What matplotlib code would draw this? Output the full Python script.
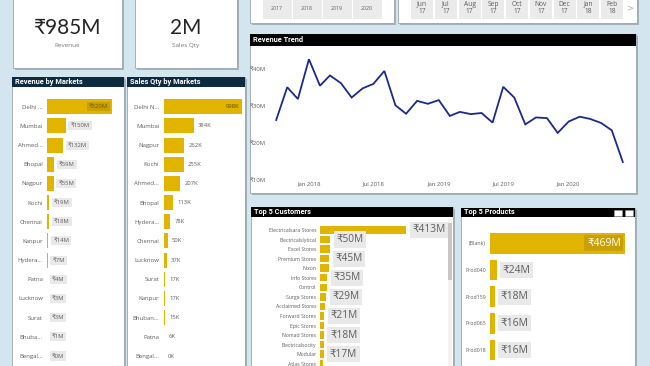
import numpy as np
import matplotlib
matplotlib.use("Agg")
from matplotlib import pyplot as plt
from matplotlib.patches import Rectangle

W, H = 650, 366
BG = "#D3E5EF"
GOLD = "#E1B400"
GOLD_DARK = "#C9A000"
TXT = "#605E5C"
BOX = "#E9E9E9"
BODY = ["Open Sans", "DejaVu Sans"]
HEAD = ["Roboto", "DejaVu Sans"]

# ---- data ----
card_values = ["₹985M", "2M"]
card_names = ["Revenue", "Sales Qty"]

years = ["2017", "2018", "2019", "2020"]
months = ["Jun\n17", "Jul\n17", "Aug\n17", "Sep\n17", "Oct\n17", "Nov\n17", "Dec\n17", "Jan\n18", "Feb\n18"]

rev_markets = ["Delhi ...", "Mumbai", "Ahmed...", "Bhopal", "Nagpur", "Kochi", "Chennai",
               "Kanpur", "Hydera...", "Patna", "Lucknow", "Surat", "Bhuba...", "Bengal..."]
rev_values = [520, 150, 132, 59, 55, 19, 18, 14, 7, 4, 3, 3, 1, 0]

qty_markets = ["Delhi N...", "Mumbai", "Nagpur", "Kochi", "Ahmed...", "Bhopal", "Hydera...",
               "Chennai", "Lucknow", "Surat", "Kanpur", "Bhuban...", "Patna", "Bengal..."]
qty_values = [998, 384, 262, 255, 207, 113, 78, 50, 37, 17, 17, 15, 6, 0]

trend_months = np.arange("2017-10", "2020-07", dtype="datetime64[M]").astype("datetime64[D]")
trend_rev = [26.2, 35.1, 31.9, 42.7, 35.5, 38.3, 36.2, 32.3, 34.8, 36.0, 39.5,
             30.2, 27.9, 31.4, 30.6, 31.6, 27.3, 28.4, 27.8, 28.1, 25.5, 35.2,
             32.3, 25.0, 26.9, 26.7, 22.7, 25.8, 27.1, 26.5, 25.4, 23.4, 14.8]
trend_ticks = np.array(["2018-01-01", "2018-07-01", "2019-01-01", "2019-07-01", "2020-01-01"], dtype="datetime64[D]")
trend_tick_labels = ["Jan 2018", "Jul 2018", "Jan 2019", "Jul 2019", "Jan 2020"]
trend_yticks = [10, 20, 30, 40]

customers = ["Electricalsara Stores", "Electricalslytical", "Excel Stores", "Premium Stores",
             "Nixon", "Info Stores", "Control", "Surge Stores", "Acclaimed Stores",
             "Forward Stores", "Epic Stores", "Nomad Stores", "Electricalsocity",
             "Modular", "Atlas Stores"]
customer_rev = [413, 50, 47, 45, 41, 35, 33, 29, 24, 21, 20, 18, 17, 17, 16]
customer_labels = ["₹413M", "₹50M", "", "₹45M", "", "₹35M", "", "₹29M", "", "₹21M", "",
                   "₹18M", "", "₹17M", ""]

products = ["(Blank)", "Prod040", "Prod159", "Prod065", "Prod018"]
product_rev = [469, 24, 18, 16, 16]


def rect_px(x0, y0, x1, y1):
    return [x0 / W, 1 - y1 / H, (x1 - x0) / W, (y1 - y0) / H]


fig = plt.figure(figsize=(6.5, 3.66), dpi=100, facecolor=BG)
bg = fig.add_axes([0, 0, 1, 1])
bg.set_xlim(0, W)
bg.set_ylim(H, 0)
bg.axis("off")


def panel(x0, y0, x1, y1, title=None, head=None, hh=10):
    bg.add_patch(Rectangle((x0 + 1.5, y0 + 1.5), x1 - x0, y1 - y0, fc="#8f9ba3", ec="none", alpha=0.7))
    bg.add_patch(Rectangle((x0, y0), x1 - x0, y1 - y0, fc="white", ec="#9aa5ac", lw=0.6))
    if title:
        bg.add_patch(Rectangle((x0, y0), x1 - x0, hh, fc=head, ec="none"))
        bg.text(x0 + 3, y0 + hh / 2, title, color="white", fontsize=5.3, fontweight="bold",
                family=HEAD, va="center", ha="left")


# cards
for (x0, x1), val, name in zip([(13, 122), (135, 237)], card_values, card_names):
    panel(x0, -5, x1, 68)
    bg.text((x0 + x1) / 2, 28, val, fontsize=15, family=["Lato", "DejaVu Sans"], color="#252423",
            ha="center", va="center")
    bg.text((x0 + x1) / 2, 45.5, name, fontsize=4.6, family=BODY, color="#777777",
            ha="center", va="center")

# slicers
panel(250, -5, 394, 23)
for i, y in enumerate(years):
    cx = 277 + 30 * i
    bg.add_patch(Rectangle((cx - 14.5, 0), 29, 19.3, fc="#EBEBEB", ec="none"))
    bg.text(cx, 8, y, fontsize=3.8, family=BODY, color=TXT, ha="center", va="center")

panel(398, -5, 637, 23)
for i, m in enumerate(months):
    cx = 422 + 23.75 * i
    bg.add_patch(Rectangle((cx - 11, 0), 22, 18.7, fc="#EBEBEB", ec="none"))
    bg.text(cx, 8, m, fontsize=4.8, family=BODY, color=TXT, ha="center", va="center", linespacing=1.15)
bg.text(630, 8, ">", fontsize=6, color="#b0b0b0", ha="center", va="center")

# big panels
panel(250, 34, 636, 193, "Revenue Trend", "black", hh=12)
panel(12, 77, 124, 372, "Revenue by Markets", "#0E2A40", hh=9.5)
panel(127, 77, 245, 372, "Sales Qty by Markets", "#0E2A40", hh=9.5)
panel(251, 207, 453, 372, "Top 5 Customers", "black", hh=10)
panel(461, 208, 635, 372, "Top 5 Products", "black", hh=9)

# scrollbar in customers
bg.add_patch(Rectangle((448, 219), 4, 150, fc="#F2F2F2", ec="none"))
bg.add_patch(Rectangle((448, 223), 4, 57, fc="#C6C6C6", ec="none"))
# header icons in products
for ix in (614, 625):
    bg.add_patch(Rectangle((ix, 209.5), 7.5, 6.5, fc="white", ec="#9a9a9a", lw=0.4))


def bar_axes(rect, names, vals, vmax, name_fs, pad):
    ax = fig.add_axes(rect)
    ax.set_facecolor("none")
    n = len(vals)
    ax.barh(range(n), vals, height=0.78, color=GOLD)
    ax.set_xlim(0, vmax)
    ax.set_ylim(n - 0.5, -0.5)
    ax.set_yticks(range(n))
    ax.set_yticklabels(names, fontsize=name_fs, color=TXT, family=BODY)
    ax.tick_params(axis="y", length=0, pad=pad)
    ax.set_xticks([])
    for s in ax.spines.values():
        s.set_visible(False)
    return ax


# revenue by markets
ax = bar_axes(rect_px(46.7, 97.1, 112, 365.6), rev_markets, rev_values, 520, 4.3, 2.8)
for i, v in enumerate(rev_values):
    lab = "₹%dM" % v
    if i == 0:
        ax.annotate(lab, (v, i), xytext=(-3, 0), textcoords="offset points", ha="right", va="center",
                    fontsize=4.2, family=BODY, color="#6b5a10",
                    bbox=dict(boxstyle="square,pad=0.3", fc=GOLD_DARK, ec="none"))
    else:
        ax.annotate(lab, (v, i), xytext=(3.5, 0), textcoords="offset points", ha="left", va="center",
                    fontsize=4.2, family=BODY, color=TXT,
                    bbox=dict(boxstyle="square,pad=0.35", fc=BOX, ec="none"))

# sales qty by markets
ax = bar_axes(rect_px(164, 97.1, 241.7, 365.6), qty_markets, qty_values, 998, 4.3, 3.4)
for i, v in enumerate(qty_values):
    lab = "%dK" % v
    if i == 0:
        ax.annotate(lab, (v, i), xytext=(-2, 0), textcoords="offset points", ha="right", va="center",
                    fontsize=4.2, family=BODY, color="#5a4a00")
    else:
        ax.annotate(lab, (v, i), xytext=(3, 0), textcoords="offset points", ha="left", va="center",
                    fontsize=4.2, family=BODY, color=TXT)

# revenue trend
ax = fig.add_axes(rect_px(268, 50, 631, 179.7))
ax.set_facecolor("none")
ax.plot(trend_months, trend_rev, color="#1B2A8C", lw=1.3, solid_joinstyle="miter")
ax.set_xlim(trend_months[0] - np.timedelta64(23, "D"), trend_months[-1] + np.timedelta64(23, "D"))
ax.set_ylim(10, 45.2)
ax.set_yticks(trend_yticks)
ax.set_yticklabels(["₹%dM" % t for t in trend_yticks], fontsize=4.3, color=TXT, family=BODY)
ax.set_xticks(trend_ticks)
ax.set_xticklabels(trend_tick_labels, fontsize=4.3, color=TXT, family=BODY)
ax.tick_params(length=0, pad=1.5)
for s in ax.spines.values():
    s.set_visible(False)

# top customers
ax = bar_axes(rect_px(320, 225.2, 406.3, 368.5), customers, customer_rev, 413, 3.7, 2.7)
for i, (v, lab) in enumerate(zip(customer_rev, customer_labels)):
    if lab:
        ax.annotate(lab, (v, i), xytext=(4.5, 0), textcoords="offset points", ha="left", va="center",
                    fontsize=7.3, family=BODY, color=TXT,
                    bbox=dict(boxstyle="square,pad=0.25", fc=BOX, ec="none"))

# top products
ax = bar_axes(rect_px(490, 230, 625, 363.4), products, product_rev, 469, 3.8, 2.9)
for i, v in enumerate(product_rev):
    lab = "₹%dM" % v
    if i == 0:
        ax.annotate(lab, (v, i), xytext=(-3, 0), textcoords="offset points", ha="right", va="center",
                    fontsize=7.5, family=BODY, color="white",
                    bbox=dict(boxstyle="square,pad=0.25", fc=GOLD_DARK, ec="none"))
    else:
        ax.annotate(lab, (v, i), xytext=(4, 0), textcoords="offset points", ha="left", va="center",
                    fontsize=7.5, family=BODY, color=TXT,
                    bbox=dict(boxstyle="square,pad=0.25", fc=BOX, ec="none"))

fig.savefig("out.png", dpi=100, facecolor=BG)
